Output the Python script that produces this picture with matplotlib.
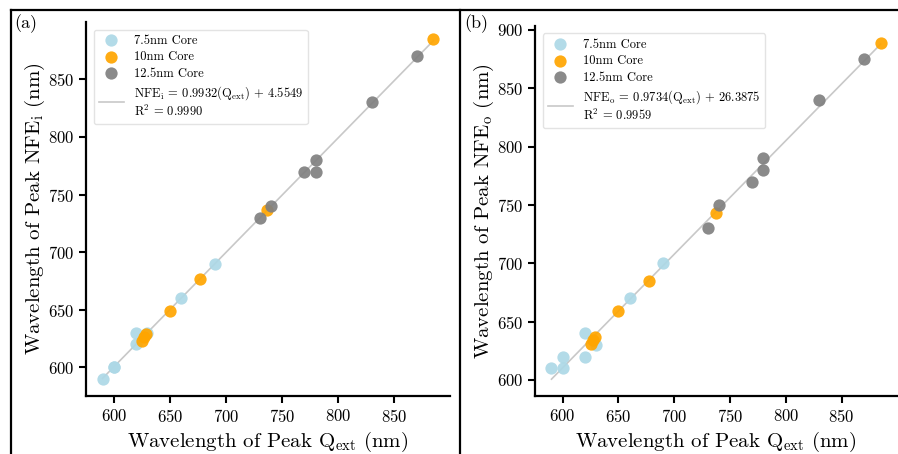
import numpy as np
import matplotlib
matplotlib.use('Agg')
import matplotlib.pyplot as plt
from matplotlib.lines import Line2D

plt.rcParams['font.family'] = 'serif'
plt.rcParams['font.serif'] = ['cmr10']
plt.rcParams['mathtext.fontset'] = 'cm'
plt.rcParams['axes.formatter.use_mathtext'] = True
plt.rcParams['axes.unicode_minus'] = False

# peak Q_ext wavelength (nm) per core size
q_75 = [590, 600, 600, 620, 620, 630, 660, 690]
q_10 = [625, 627, 629, 650, 677, 737, 885]
q_125 = [730, 740, 770, 780, 780, 830, 870]

# peak NFE_i wavelength (nm)
nfei_75 = [590, 600, 600, 630, 620, 630, 660, 690]
nfei_10 = [623, 626, 629, 649, 677, 737, 885]
nfei_125 = [730, 740, 770, 780, 770, 830, 870]

# peak NFE_o wavelength (nm)
nfeo_75 = [610, 620, 610, 640, 620, 630, 670, 700]
nfeo_10 = [631, 634, 637, 659, 685, 743, 889]
nfeo_125 = [730, 750, 770, 790, 780, 840, 875]

fit_i = (0.9932, 4.5549, 0.9990)
fit_o = (0.9734, 26.3875, 0.9959)

fig = plt.figure(figsize=(8.98, 4.54), dpi=100)
ax1 = fig.add_axes([0.0958, 0.1278, 0.4052, 0.8237])
ax2 = fig.add_axes([0.5958, 0.1278, 0.4032, 0.8150])


def panel(ax, y75, y10, y125, fit, sub):
    qall = np.array(q_75 + q_10 + q_125)
    xs = np.linspace(qall.min(), qall.max(), 50)
    m, b, r2 = fit
    lbl = ('NFE$_\\mathrm{%s}$ = %.4f(Q$_\\mathrm{ext}$) + %.4f\nR$^2$ = %.4f'
           % (sub, m, b, r2))
    ln, = ax.plot(xs, m * xs + b, color='#c8c8c8', lw=1.2, zorder=1, label=lbl)
    s1 = ax.scatter(q_75, y75, s=78, color='lightblue', alpha=0.92, lw=0,
                    zorder=2, label='7.5nm Core')
    s2 = ax.scatter(q_10, y10, s=78, color='orange', alpha=0.92, lw=0,
                    zorder=3, label='10nm Core')
    s3 = ax.scatter(q_125, y125, s=78, color='gray', alpha=0.92, lw=0,
                    zorder=4, label='12.5nm Core')
    ax.legend(handles=[s1, s2, s3, ln], loc='upper left', fontsize=9,
              frameon=True, edgecolor='#dddddd', handlelength=2.0,
              labelspacing=0.35, borderaxespad=0.6)
    for sp in ['top', 'right']:
        ax.spines[sp].set_visible(False)
    for sp in ['left', 'bottom']:
        ax.spines[sp].set_linewidth(1.6)
    ax.tick_params(direction='out', length=5, width=1.5, labelsize=12)
    ax.set_xticks([600, 650, 700, 750, 800, 850])
    ax.set_xlabel('Wavelength of Peak Q$_\\mathrm{ext}$ (nm)', fontsize=15)
    ax.set_ylabel('Wavelength of Peak NFE$_\\mathrm{%s}$ (nm)' % sub,
                  fontsize=15, labelpad=1)


panel(ax1, nfei_75, nfei_10, nfei_125, fit_i, 'i')
panel(ax2, nfeo_75, nfeo_10, nfeo_125, fit_o, 'o')
ax1.set_yticks([600, 650, 700, 750, 800, 850])
ax2.set_yticks([600, 650, 700, 750, 800, 850, 900])

# panel frames
W, H = 898.0, 454.0
for xa, ya, xb, yb in [(11, 10, 898, 10), (11, 10, 11, 454), (460, 10, 460, 454)]:
    fig.add_artist(Line2D([xa / W, xb / W], [1 - ya / H, 1 - yb / H],
                          color='black', lw=1.6, transform=fig.transFigure))

fig.text(14 / W, 1 - 14 / H, '(a)', fontsize=13, va='top', ha='left')
fig.text(464 / W, 1 - 14 / H, '(b)', fontsize=13, va='top', ha='left')

fig.savefig('out.png', dpi=100)
